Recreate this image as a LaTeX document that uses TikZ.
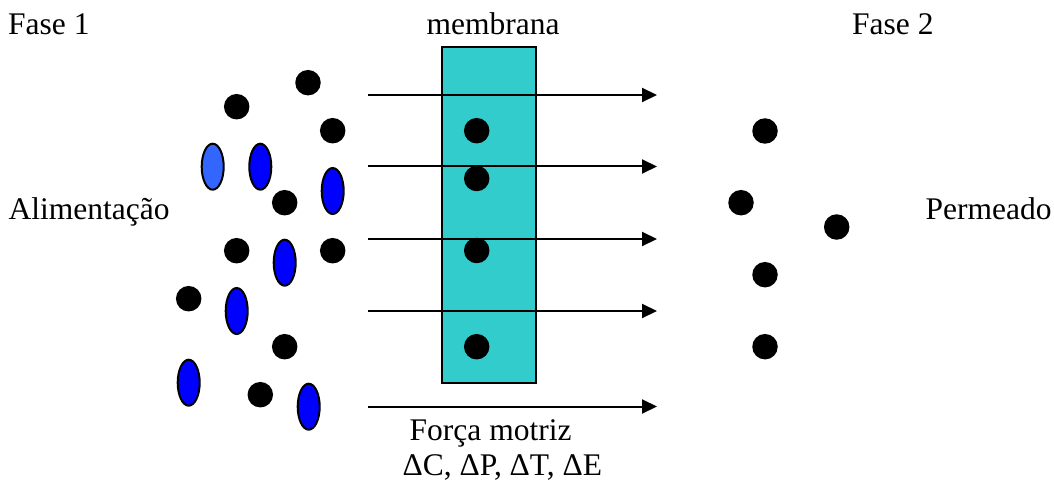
\documentclass[tikz,border=0pt]{standalone}
\usepackage{fontspec}
\setmainfont{Liberation Serif}
\usetikzlibrary{arrows.meta,shapes.geometric}
\definecolor{memb}{HTML}{33CCCC}
\definecolor{lblue}{HTML}{3366FF}
\definecolor{dblue}{HTML}{0000FF}
\tikzset{
  dot/.style={circle,fill=black,draw=none,minimum size=25.5pt,inner sep=0pt},
  mol/.style={ellipse,draw=black,line width=2pt,fill=dblue,minimum width=22pt,minimum height=46pt,inner sep=0pt},
  lmol/.style={mol,fill=lblue},
  flow/.style={line width=2pt,-{Triangle[length=15pt,width=14pt]}},
  lbl/.style={font=\fontsize{31.5}{36}\selectfont,inner sep=0pt,anchor=base west},
  membox/.style={draw=black,line width=2pt,fill=memb,minimum width=94.5pt,minimum height=335pt,inner sep=0pt}
}
\begin{document}
\begin{tikzpicture}[x=1pt,y=-1pt]
\useasboundingbox (0,0) rectangle (1054,481);
% membrane
\node[membox] (mem) at (488.9,215) {};
% arrows
\foreach \i/\y in {1/95,2/166.5,3/239,4/311,5/406.5}{
  \coordinate (s\i) at (368,\y);
  \coordinate (e\i) at (657,\y);
  \draw[flow] (s\i) -- (e\i);
}
% feed molecules
\node[dot] (d1) at (236.7,106.7) {};
\node[dot] (d2) at (308,82.7) {};
\node[dot] (d3) at (332.7,130.7) {};
\node[dot] (d4) at (284.7,202.7) {};
\node[dot] (d5) at (236.7,250.7) {};
\node[dot] (d6) at (332.7,250.7) {};
\node[dot] (d7) at (188.7,298.7) {};
\node[dot] (d8) at (284.7,346.7) {};
\node[dot] (d9) at (260.3,394.7) {};
\node[lmol] (m1) at (212.7,166.7) {};
\node[mol] (m2) at (260.3,166.7) {};
\node[mol] (m3) at (332.7,191) {};
\node[mol] (m4) at (284.7,262.7) {};
\node[mol] (m5) at (236.7,311) {};
\node[mol] (m6) at (188.7,382.7) {};
\node[mol] (m7) at (308.7,406.7) {};
% in membrane
\node[dot] (md1) at (476.7,130.7) {};
\node[dot] (md2) at (476.7,178.5) {};
\node[dot] (md3) at (476.7,250.5) {};
\node[dot] (md4) at (476.7,346.7) {};
% permeate
\node[dot] (p1) at (765,131) {};
\node[dot] (p2) at (741,202.7) {};
\node[dot] (p3) at (836.7,227) {};
\node[dot] (p4) at (765,274.7) {};
\node[dot] (p5) at (765,346.7) {};
% labels
\node[lbl] (f1) at (8,35) {Fase 1};
\node[lbl] (mt) at (426.5,35) {membrana};
\node[lbl] (f2) at (852,35) {Fase 2};
\node[lbl] (al) at (8.5,219) {Alimentação};
\node[lbl] (pe) at (925.5,219) {Permeado};
\node[lbl] (fm) at (409.5,440) {Força motriz};
\node[lbl] (dl) at (402.5,475) {ΔC, ΔP, ΔT, ΔE};
\end{tikzpicture}
\end{document}
